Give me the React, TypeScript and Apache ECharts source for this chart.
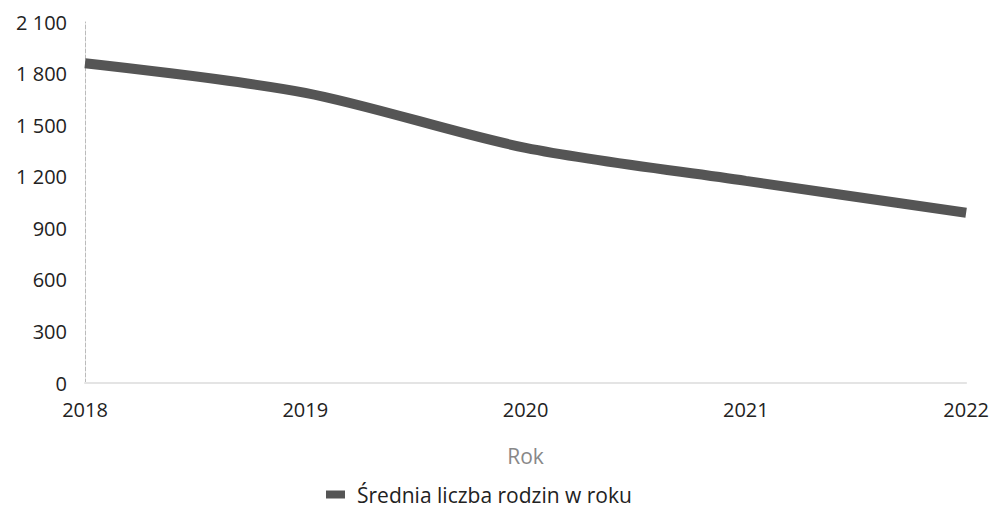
import React, { useEffect, useRef } from "react";
import * as echarts from "echarts";

const categories = ["2018", "2019", "2020", "2021", "2022"];
const values = [1860, 1688, 1368, 1176, 990];
const seriesName = "Średnia liczba rodzin w roku";
const xAxisName = "Rok";

export default function App() {
  const ref = useRef<HTMLDivElement>(null);
  useEffect(() => {
    if (!ref.current) return;
    const chart = echarts.init(ref.current, undefined, { renderer: "svg" });
    chart.setOption({
      animation: false,
      backgroundColor: "#fff",
      textStyle: { fontFamily: "Open Sans" },
      grid: { left: 85, right: 20, top: 22, bottom: 130 },
      legend: {
        bottom: 3,
        left: 321,
        itemWidth: 19,
        itemHeight: 8,
        itemGap: 10,
        icon: "rect",
        textStyle: { fontSize: 21, color: "#222", fontFamily: "Open Sans", padding: [0, 0, 0, 7] },
        data: [{ name: seriesName, icon: "rect" }],
      },
      xAxis: {
        type: "category",
        data: categories,
        boundaryGap: false,
        name: xAxisName,
        nameLocation: "middle",
        nameGap: 62,
        nameTextStyle: { fontSize: 21, color: "#888" },
        axisLine: { show: true, lineStyle: { color: "#e4e4e4", width: 2 } },
        axisTick: { show: false },
        axisLabel: { fontSize: 20, color: "#222", margin: 16 },
        splitLine: { show: false },
      },
      yAxis: {
        type: "value",
        min: 0,
        max: 2100,
        interval: 300,
        axisLine: { show: true, lineStyle: { color: "#bbb", width: 1, type: "dashed" } },
        axisTick: { show: false },
        splitLine: { show: false },
        axisLabel: {
          fontSize: 20,
          color: "#222",
          margin: 18,
          formatter: (v: number) => String(v).replace(/\B(?=(\d{3})+(?!\d))/g, " "),
        },
      },
      series: [
        {
          name: seriesName,
          type: "line",
          data: values,
          smooth: 0.3,
          symbol: "none",
          itemStyle: { color: "#555555" },
          lineStyle: { color: "#555555", width: 10 },
        },
      ],
    });
    return () => chart.dispose();
  }, []);
  return (
    <div
      ref={ref}
      style={{ position: "fixed", left: 0, top: 0, width: 992, height: 513 }}
    />
  );
}
